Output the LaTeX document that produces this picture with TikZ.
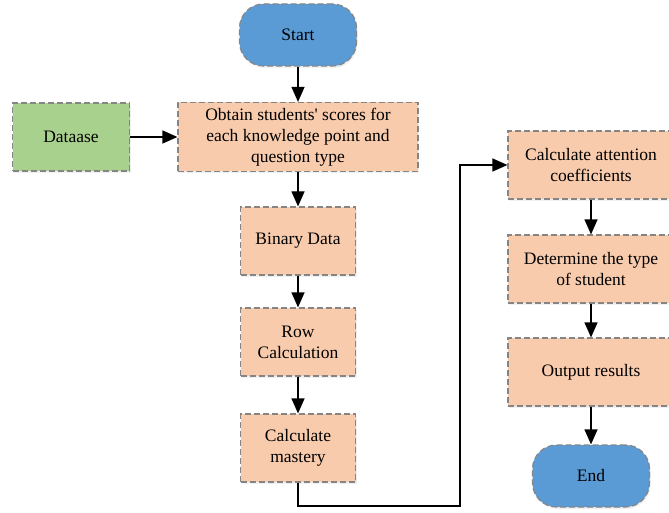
\documentclass[tikz,border=0pt]{standalone}
\usepackage{fontspec}
\setmainfont{Liberation Serif}
\usetikzlibrary{arrows.meta,shadows}
\definecolor{boxorange}{HTML}{F8CBAD}
\definecolor{boxgreen}{HTML}{A9D18E}
\definecolor{termblue}{HTML}{5B9BD5}
\definecolor{edgegray}{HTML}{858585}
\tikzset{
  stepbox/.style={draw=edgegray, fill=boxorange, line width=1.2pt,
    dash pattern=on 6pt off 3pt, minimum width=115pt, minimum height=68pt,
    align=center, font=\fontsize{17.5}{21}\selectfont, inner sep=2pt,
    drop shadow={opacity=0.12, shadow xshift=1pt, shadow yshift=-2pt}},
  termbox/.style={stepbox, fill=termblue, minimum width=117pt,
    minimum height=62pt, rounded corners=24pt},
  flow/.style={line width=1.2pt, -{Triangle[length=15pt,width=13pt]}}
}
\begin{document}
\begin{tikzpicture}[x=1pt,y=-1pt]
  \useasboundingbox (0,0) rectangle (669,513);
  \begin{scope}
  \clip (0,0) rectangle (669,513);
    % left column
    \node[termbox] (start) at (298,35) {Start};
    \node[stepbox, minimum width=240pt, minimum height=69pt] (obtain) at (298,137)
      {Obtain students\textquotesingle{} scores for\\each knowledge point and\\question type};
    \node[stepbox, fill=boxgreen, minimum width=117pt] (data) at (71,137) {Dataase};
    \node[stepbox] (binary) at (298,241) {Binary Data};
    \node[stepbox] (row) at (298,342) {Row\\Calculation};
    \node[stepbox] (mastery) at (298,448) {Calculate\\mastery};

    % right column
    \node[stepbox, minimum width=166pt] (attn) at (591,165) {Calculate attention\\coefficients};
    \node[stepbox, minimum width=166pt] (type) at (591,269) {Determine the type\\of student};
    \node[stepbox, minimum width=166pt] (output) at (591,372) {Output results};
    \node[termbox] (end) at (591,476) {End};

    % connectors
    \draw[flow] (start) -- (obtain);
    \draw[flow] (data) -- (obtain);
    \draw[flow] (obtain) -- (binary);
    \draw[flow] (binary) -- (row);
    \draw[flow] (row) -- (mastery);
    \draw[flow] (mastery.south) |- (460,506) |- (attn.west);
    \draw[flow] (attn) -- (type);
    \draw[flow] (type) -- (output);
    \draw[flow] (output) -- (end);
  \end{scope}
\end{tikzpicture}
\end{document}
